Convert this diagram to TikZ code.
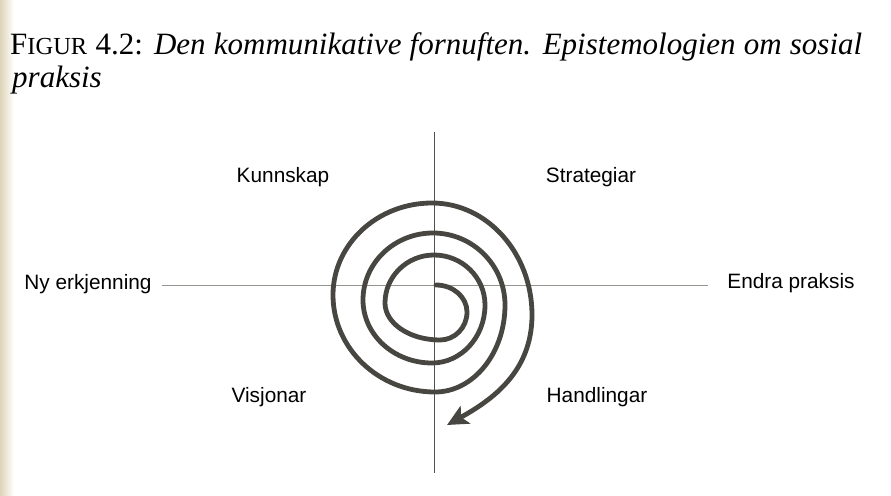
\documentclass[tikz,border=0pt]{standalone}
\usepackage{fontspec}
\newfontfamily\labelfont{Liberation Sans}
\newfontfamily\titleserif{Liberation Serif}
\usetikzlibrary{arrows.meta}
\definecolor{spiralgray}{RGB}{72,70,64}
\definecolor{axisgray}{RGB}{150,150,145}
\definecolor{vaxisgray}{RGB}{80,80,80}
\definecolor{pageedge}{RGB}{222,212,185}
\begin{document}
\begin{tikzpicture}[x=1pt,y=-1pt,
  lbl/.style={font=\labelfont\fontsize{20.8}{24}\selectfont, inner sep=0pt, anchor=mid},
  titlefont/.style={font=\titleserif\fontsize{31}{34}\selectfont, inner sep=0pt, anchor=base west},
  haxis/.style={line width=0.9pt, draw=axisgray},
  vaxis/.style={line width=0.9pt, draw=vaxisgray},
  spiral/.style={line width=4.8pt, draw=spiralgray, line cap=round,
    -{Stealth[length=21pt,width=20pt,inset=5pt]}}]
\useasboundingbox (0,0) rectangle (891,495);
\shade[left color=pageedge, right color=white] (0,0) rectangle (14,495);

% title
\node[titlefont] (title1) at (10,55)
  {\makebox[852pt][s]{F{\fontsize{24.5}{27}\selectfont IGUR} 4.2: \textit{Den kommunikative fornuften. Epistemologien om sosial}}};
\node[titlefont] (title2) at (12,88) {\textit{praksis}};

% axes
\coordinate (hl) at (162,285);
\coordinate (hr) at (708,285);
\coordinate (vt) at (434,132);
\coordinate (vb) at (434,473);
\draw[haxis] (hl) -- (hr);
\draw[vaxis] (vt) -- (vb);

% labels
\node[lbl] (kunnskap) at (283,180) {Kunnskap};
\node[lbl] (strategiar) at (591,180) {Strategiar};
\node[lbl] (ny) at (88,287) {Ny erkjenning};
\node[lbl] (endra) at (791,286) {Endra praksis};
\node[lbl] (visjonar) at (269,400) {Visjonar};
\node[lbl] (handlingar) at (597,400) {Handlingar};

% spiral
\coordinate (tip) at (447,425);
\draw[spiral] (436,285)
  .. controls (453.1,285) and (467,297.1) .. (467,312)
  .. controls (467,327.5) and (454.9,340) .. (440,340)
  .. controls (409.6,340) and (385,323.4) .. (385,303)
  .. controls (385,276.5) and (407,255) .. (434,255)
  .. controls (462.2,255) and (485,277.4) .. (485,305)
  .. controls (485,337) and (461.3,363) .. (432,363)
  .. controls (393.9,363) and (363,334.8) .. (363,300)
  .. controls (363,263) and (394.4,233) .. (433,233)
  .. controls (472.7,233) and (505,265.3) .. (505,305)
  .. controls (505,353) and (473.6,392) .. (435,392)
  .. controls (378.7,392) and (333,348.5) .. (333,295)
  .. controls (333,244.2) and (377.4,203) .. (432,203)
  .. controls (487.2,203) and (532,253.2) .. (532,315)
  .. controls (532,372) and (492,400) .. (tip);
\end{tikzpicture}
\end{document}
